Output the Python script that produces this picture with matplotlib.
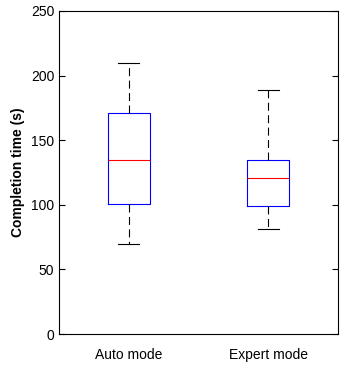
import matplotlib
matplotlib.use('Agg')
from matplotlib import pyplot as plt

plt.rcParams['font.family'] = ['Liberation Sans', 'DejaVu Sans']

labels = ['Auto mode', 'Expert mode']
whislo = [70, 81]
q1     = [101, 99]
med    = [135, 121]
q3     = [171, 135]
whishi = [210, 189]

stats = []
for i in range(len(labels)):
    stats.append({'label': labels[i], 'whislo': whislo[i], 'q1': q1[i], 'med': med[i],
                  'q3': q3[i], 'whishi': whishi[i], 'fliers': []})

fig = plt.figure(figsize=(3.5, 3.8), dpi=100)
ax = fig.add_axes([59/350, 46/380, 279/350, 323/380])
ax.bxp(stats, positions=[1, 2], widths=0.3, showfliers=False,
       boxprops=dict(color='blue', linewidth=0.8),
       medianprops=dict(color='red', linewidth=0.8),
       whiskerprops=dict(color='black', linestyle=(0, (7.2, 4)), linewidth=0.8),
       capprops=dict(color='black', linewidth=0.8),
       capwidths=0.15)

ax.set_xlim(0.5, 2.5)
ax.set_ylim(0, 250)
ax.set_yticks([0, 50, 100, 150, 200, 250])
ax.tick_params(axis='y', direction='in', right=True, labelsize=10, length=4)
ax.tick_params(axis='x', length=0, labelsize=10, pad=10)
ax.set_ylabel('Completion time (s)', fontweight='bold', fontsize=10)
for s in ax.spines.values():
    s.set_linewidth(0.8)

fig.savefig('out.png', dpi=100)
